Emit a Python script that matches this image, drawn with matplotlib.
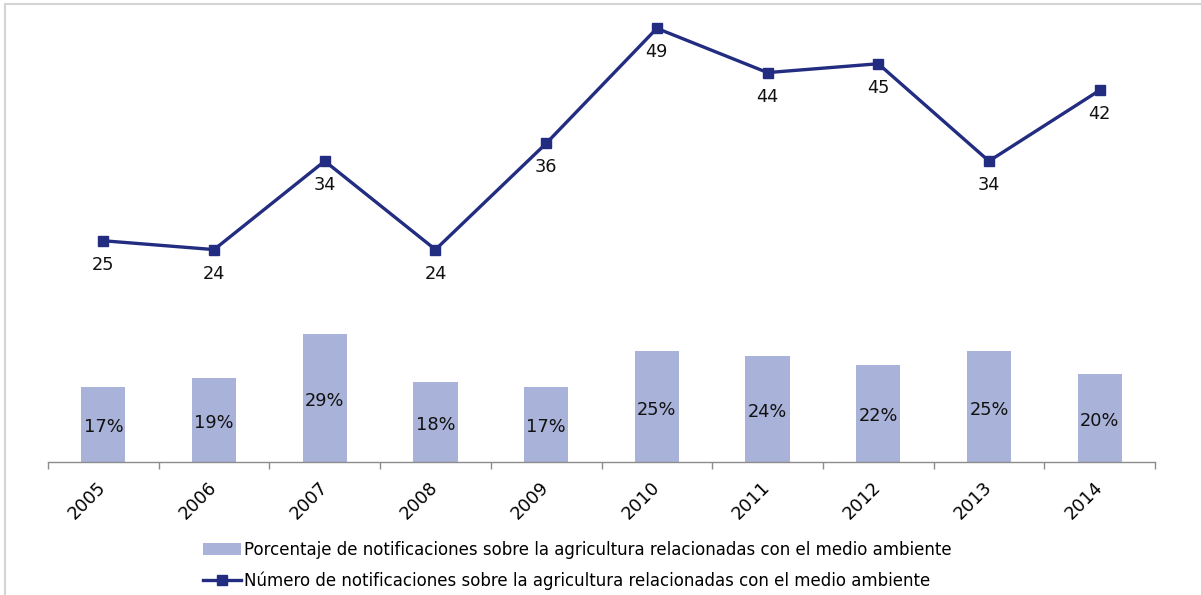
import matplotlib
matplotlib.use("Agg")
import matplotlib.pyplot as plt
from matplotlib.lines import Line2D
import numpy as np

years = ["2005", "2006", "2007", "2008", "2009", "2010", "2011", "2012", "2013", "2014"]
porcentaje = [17, 19, 29, 18, 17, 25, 24, 22, 25, 20]
numero = [25, 24, 34, 24, 36, 49, 44, 45, 34, 42]

bar_label = "Porcentaje de notificaciones sobre la agricultura relacionadas con el medio ambiente"
line_label = "Número de notificaciones sobre la agricultura relacionadas con el medio ambiente"

bar_color = "#A9B2D8"
line_color = "#222C80"
FS = 12.8

plt.rcParams["font.family"] = ["DejaVu Sans"]

W, H = 1201, 595
fig = plt.figure(figsize=(W / 100, H / 100), dpi=100)

left, right, top, bottom = 48, 1155, 19.5, 462
ax = fig.add_axes([left / W, 1 - bottom / H, (right - left) / W, (bottom - top) / H])
ax2 = ax.twinx()

x = np.arange(len(years))
bars = ax.bar(x, [p / 100 for p in porcentaje], width=0.4, color=bar_color, label=bar_label, zorder=2)
ax.set_ylim(0, 1.0)
ax.set_xlim(-0.5, len(years) - 0.5)

for xi, p in zip(x, porcentaje):
    ax.annotate(f"{p}%", (xi, p / 200), xytext=(0, -3), textcoords="offset pixels",
                ha="center", va="center", fontsize=FS, color="#111111")

ax2.plot(x, numero, color=line_color, lw=2.4, marker="s", markersize=7, label=line_label, zorder=3)
ax2.set_ylim(0, 50)
for xi, n in zip(x, numero):
    ax2.annotate(str(n), (xi, n), xytext=(0, -24), textcoords="offset pixels",
                 ha="center", va="center", fontsize=FS, color="#111111")

for a in (ax, ax2):
    for s in ("top", "right", "left"):
        a.spines[s].set_visible(False)
    a.set_yticks([])
ax2.spines["bottom"].set_visible(False)
ax.spines["bottom"].set_color("#8C8C8C")
ax.spines["bottom"].set_linewidth(1.0)

ax.set_xticks(x)
ax.set_xticklabels(years, rotation=45, ha="right", va="center", rotation_mode="anchor", fontsize=FS)
ax.tick_params(axis="x", which="major", length=0, pad=16)
ax.set_xticks(np.arange(-0.5, len(years)), minor=True)
ax.tick_params(axis="x", which="minor", length=5, color="#8C8C8C", width=1.0)

handles = [bars, Line2D([], [], color=line_color, lw=2.4, marker="s", markersize=7)]
fig.legend(handles, [bar_label, line_label], loc="upper left",
           bbox_to_anchor=(196 / W, 1 - 534 / H), frameon=False, fontsize=12,
           handlelength=2.3, handletextpad=0.15, labelspacing=0.75, borderaxespad=0)

# figure border (top and left)
fig.add_artist(Line2D([5 / W, 1], [1 - 4 / H, 1 - 4 / H], transform=fig.transFigure, color="#D4D4D4", lw=1.5))
fig.add_artist(Line2D([5 / W, 5 / W], [0, 1 - 4 / H], transform=fig.transFigure, color="#D4D4D4", lw=1.5))

fig.savefig("out.png", dpi=100)
